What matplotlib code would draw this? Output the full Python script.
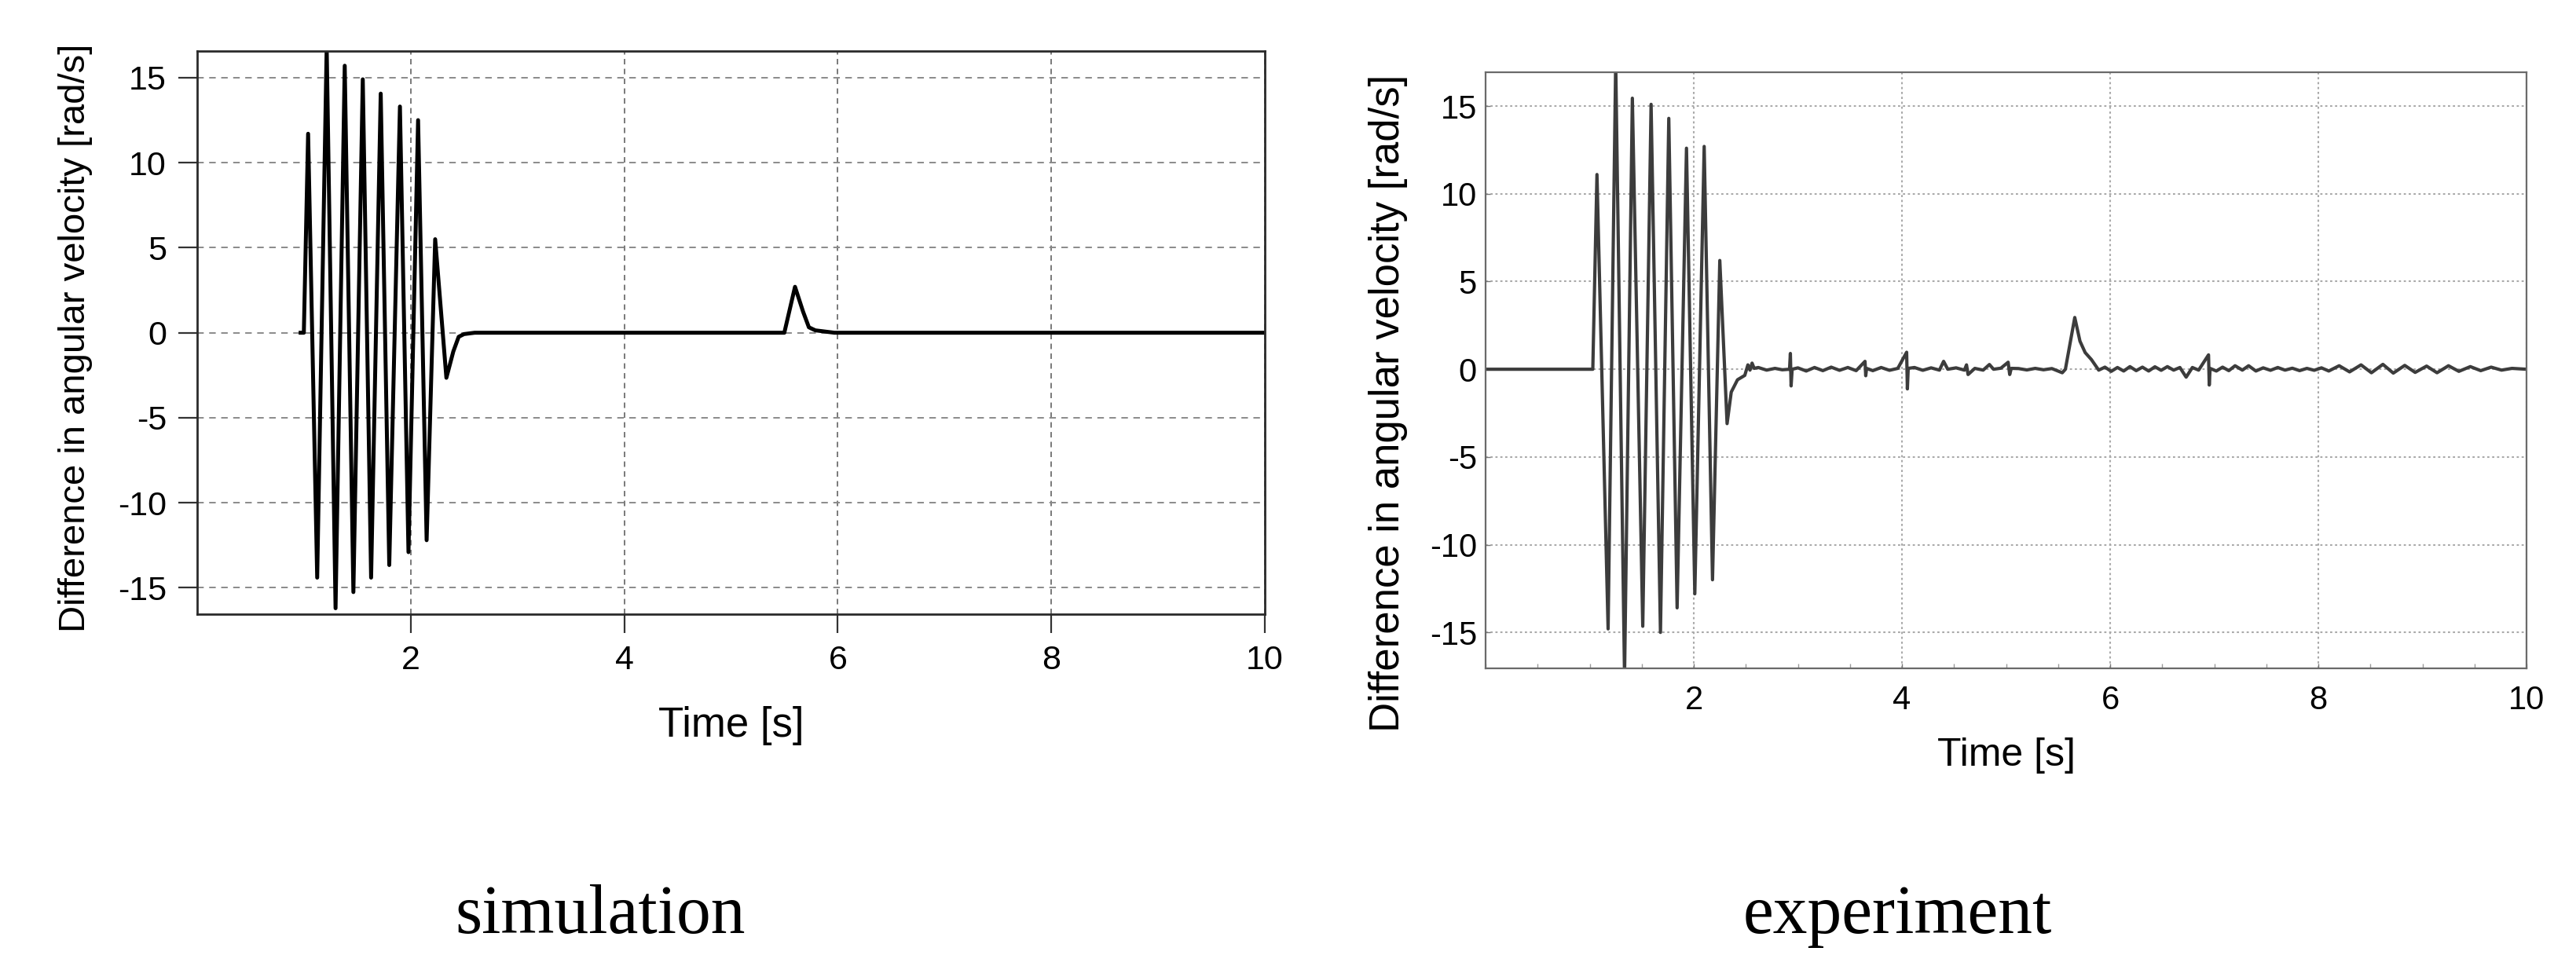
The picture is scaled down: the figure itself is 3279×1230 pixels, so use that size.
import matplotlib
matplotlib.use("Agg")
from matplotlib import pyplot as plt
from matplotlib.ticker import MultipleLocator

plt.rcParams['font.family'] = ['Liberation Sans', 'DejaVu Sans']
plt.rcParams['lines.scale_dashes'] = False
plt.rcParams['axes.unicode_minus'] = False

# simulation: difference in angular velocity [rad/s] vs time [s]
sim_time = [0.97, 1.00, 1.04, 1.125, 1.214, 1.297, 1.383, 1.464, 1.552, 1.63,
            1.72, 1.80, 1.90, 1.98, 2.07, 2.15, 2.23, 2.335, 2.40, 2.45,
            2.50, 2.60, 5.50, 5.60, 5.675, 5.73, 5.79, 5.97, 10.0]
sim_value = [0.0, 0.0, 11.7, -14.4, 16.8, -16.2, 15.7, -15.25, 14.9, -14.4,
             14.06, -13.66, 13.3, -12.9, 12.5, -12.2, 5.5, -2.65, -1.1, -0.24,
             -0.08, 0.0, 0.0, 2.7, 1.25, 0.32, 0.14, 0.0, 0.0]

# experiment: same quantity, measured
exp_time = [
    0.00, 1.03, 1.07, 1.177, 1.25, 1.335, 1.41, 1.51, 1.59, 1.68, 1.76, 1.84,
    1.93, 2.01, 2.10, 2.18, 2.25, 2.32,
    2.36, 2.42, 2.49, 2.52, 2.54, 2.56, 2.58, 2.62, 2.70, 2.78, 2.85,
    2.92, 2.928, 2.935, 2.945, 3.00, 3.08, 3.16, 3.24, 3.32, 3.40, 3.48, 3.56,
    3.645, 3.652, 3.66, 3.72, 3.80, 3.88, 3.96,
    4.045, 4.052, 4.06, 4.12, 4.20, 4.28, 4.36, 4.40, 4.44, 4.52, 4.60, 4.62,
    4.635, 4.70, 4.78, 4.84, 4.88, 4.95, 5.02, 5.035, 5.05, 5.12, 5.20, 5.28,
    5.36, 5.44, 5.54, 5.57,
    5.66, 5.71, 5.76, 5.82, 5.89, 5.95, 6.01, 6.07, 6.13, 6.19, 6.25, 6.31,
    6.37, 6.43, 6.49, 6.55, 6.61, 6.67, 6.73, 6.79, 6.85,
    6.945, 6.952, 6.96, 7.02, 7.08, 7.14, 7.20, 7.27, 7.33, 7.40, 7.47, 7.54,
    7.61, 7.68, 7.75, 7.82, 7.89, 7.96, 8.03, 8.10,
    8.20, 8.30, 8.41, 8.51, 8.62, 8.72, 8.83, 8.93, 9.04, 9.14, 9.25, 9.35,
    9.46, 9.56, 9.66, 9.76, 9.86, 10.0]
exp_value = [
    0.0, 0.0, 11.1, -14.8, 17.5, -17.5, 15.45, -14.65, 15.1, -15.0, 14.3, -13.6,
    12.6, -12.8, 12.7, -12.0, 6.2, -3.1,
    -1.3, -0.6, -0.35, 0.25, -0.05, 0.35, 0.05, 0.1, -0.05, 0.05, -0.03,
    0.0, 0.9, -0.95, 0.0, 0.08, -0.1, 0.1, -0.08, 0.12, -0.06, 0.1, -0.08,
    0.45, -0.37, 0.05, -0.08, 0.1, -0.06, 0.05,
    0.97, -1.12, 0.05, 0.1, -0.06, 0.08, -0.05, 0.45, 0.0, 0.08, -0.05, 0.25,
    -0.3, 0.05, -0.05, 0.27, 0.0, 0.06, 0.4, -0.3, 0.05, 0.04, -0.04, 0.05,
    -0.03, 0.04, -0.2, 0.0,
    2.95, 1.6, 0.95, 0.55, -0.05, 0.12, -0.12, 0.1, -0.1, 0.15, -0.08, 0.12,
    -0.1, 0.14, -0.06, 0.15, -0.05, 0.1, -0.45, 0.1, -0.05,
    0.82, -0.9, 0.05, -0.1, 0.12, -0.08, 0.2, -0.05, 0.2, -0.1, 0.08, -0.06,
    0.1, -0.05, 0.06, -0.08, 0.05, -0.06, 0.08, -0.1,
    0.2, -0.15, 0.25, -0.2, 0.28, -0.22, 0.22, -0.18, 0.18, -0.2, 0.2, -0.12,
    0.15, -0.08, 0.12, -0.05, 0.05, 0.0]
assert len(exp_time) == len(exp_value)

x_ticks = [2, 4, 6, 8, 10]
y_ticks = [-15, -10, -5, 0, 5, 10, 15]
y_label = "Difference in angular velocity [rad/s]"
x_label = "Time [s]"
captions = ["simulation", "experiment"]

fig = plt.figure(figsize=(32.79, 12.30), dpi=100)

# --- left: simulation ---
ax1 = fig.add_axes([0.0765, 0.3642, 0.4145, 0.5829])
ax1.set_axisbelow(True)
ax1.plot(sim_time, sim_value, color='black', lw=3.6, solid_joinstyle='round')
ax1.set_xlim(0, 10)
ax1.set_ylim(-16.55, 16.56)
ax1.set_xticks(x_ticks)
ax1.set_yticks(y_ticks)
ax1.tick_params(direction='out', length=17, width=1.6, color='#333333',
                labelsize=31, pad=11)
ax1.grid(axis='y', color='#8a8a8a', lw=1.4, linestyle=(0, (6, 5)))
ax1.grid(axis='x', color='#555555', lw=1.1, linestyle=(0, (5, 4)))
for sp in ax1.spines.values():
    sp.set_color('#2a2a2a')
    sp.set_linewidth(2.0)
ax1.set_ylabel(y_label, fontsize=34)
ax1.yaxis.set_label_coords(-0.098, 0.491)
ax1.set_xlabel(x_label, fontsize=38)
ax1.xaxis.set_label_coords(0.5, -0.163)

# --- right: experiment ---
ax2 = fig.add_axes([0.5767, 0.3081, 0.4041, 0.6175])
ax2.set_axisbelow(True)
ax2.plot(exp_time, exp_value, color='#3c3c3c', lw=3.0, solid_joinstyle='round')
ax2.set_xlim(0, 10)
ax2.set_ylim(-17.05, 16.95)
ax2.set_xticks(x_ticks)
ax2.set_yticks(y_ticks)
ax2.xaxis.set_minor_locator(MultipleLocator(0.5))
ax2.tick_params(which='major', direction='in', length=4, width=1.0,
                color='#777777', labelsize=30)
ax2.tick_params(axis='x', which='major', pad=15)
ax2.tick_params(axis='y', which='major', pad=8)
ax2.tick_params(which='minor', direction='in', length=4, width=1.0,
                color='#999999')
ax2.grid(which='major', color='#aaaaaa', lw=1.5, linestyle=(0, (2, 2.5)))
for sp in ax2.spines.values():
    sp.set_color('#6a6a6a')
    sp.set_linewidth(1.6)
ax2.set_ylabel(y_label, fontsize=38)
ax2.yaxis.set_label_coords(-0.0747, 0.444)
ax2.set_xlabel(x_label, fontsize=36)
ax2.xaxis.set_label_coords(0.5, -0.116)

# captions under the panels
fig.text(764 / 3279, 1 - 1188 / 1230, captions[0], ha='center', va='baseline',
         fontsize=63, family=['Liberation Serif', 'DejaVu Serif'])
fig.text(2415 / 3279, 1 - 1188 / 1230, captions[1], ha='center', va='baseline',
         fontsize=63, family=['Liberation Serif', 'DejaVu Serif'])

fig.savefig("out.png", dpi=100, facecolor='white')
